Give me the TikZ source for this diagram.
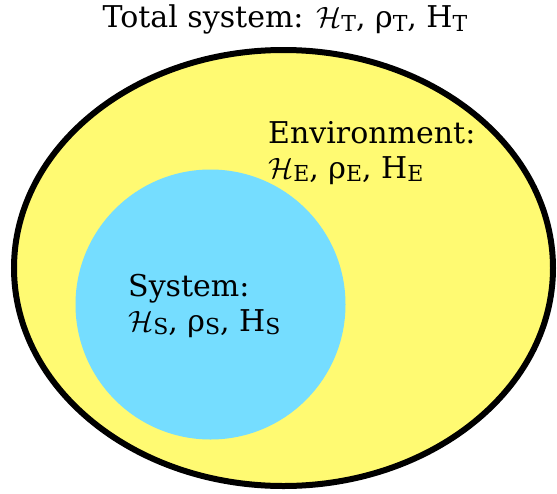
\documentclass[tikz,border=0pt]{standalone}
\usepackage{fontspec}
\setmainfont{DejaVu Serif}
\usepackage{xcolor}
\usepackage{tikz}
\definecolor{envyellow}{RGB}{255,250,114}
\definecolor{sysblue}{RGB}{117,221,255}
\newcommand{\lowidx}[1]{\raisebox{-0.25ex}{\fontsize{22}{22}\selectfont #1}}
\newcommand{\scrH}{\scalebox{1.18}{$\mathcal{H}$}}
\tikzset{lbl/.style={inner sep=0pt,font=\fontsize{30}{35}\selectfont,align=left}}

\begin{document}
\begin{tikzpicture}[x=1pt,y=-1pt]
\useasboundingbox (0,0) rectangle (557,493);
\draw[line width=6pt,fill=envyellow](283.5,268)ellipse[x radius=269.5,y radius=218];
\fill[sysblue](210.5,304.5)circle[radius=135];
\node[lbl,anchor=base](total)at(285,27.5){Total system: \scrH\lowidx{T}, ρ\lowidx{T}, H\lowidx{T}};
% base of a two-line node is its last line
\node[lbl,anchor=base west](env)at(268,178){Environment:\\ \scrH\lowidx{E}, ρ\lowidx{E}, H\lowidx{E}};
\node[lbl,anchor=base west](sys)at(128,331){System:\\ \scrH\lowidx{S}, ρ\lowidx{S}, H\lowidx{S}};
\end{tikzpicture}
\end{document}
